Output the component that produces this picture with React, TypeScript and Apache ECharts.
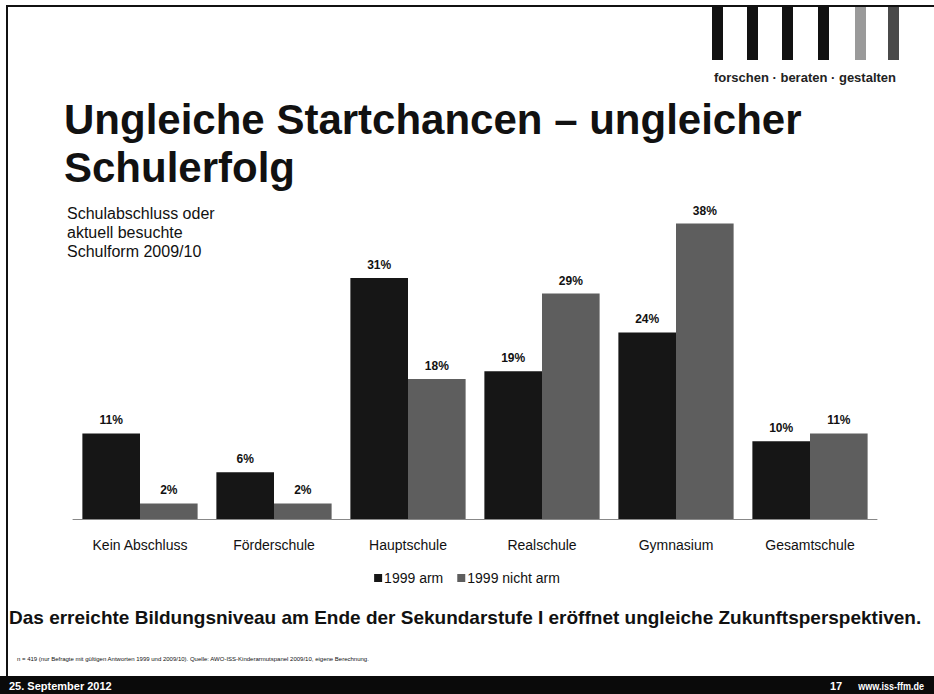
import React, { useEffect, useRef } from "react";
import * as echarts from "echarts";

const categories = ["Kein Abschluss", "Förderschule", "Hauptschule", "Realschule", "Gymnasium", "Gesamtschule"];
const seriesNames = ["1999 arm", "1999 nicht arm"];
const armValues = [11, 6, 31, 19, 24, 10];
const nichtArmValues = [2, 2, 18, 29, 38, 11];

const titleLines = "Ungleiche Startchancen – ungleicher\nSchulerfolg";
const subtitle = "Schulabschluss oder\naktuell besuchte\nSchulform 2009/10";
const statement = "Das erreichte Bildungsniveau am Ende der Sekundarstufe I eröffnet ungleiche Zukunftsperspektiven.";
const footnote = "n = 419 (nur Befragte mit gültigen Antworten 1999 und 2009/10). Quelle: AWO-ISS-Kinderarmutspanel 2009/10, eigene Berechnung.";
const footerDate = "25. September 2012";
const footerPage = "17";
const footerUrl = "www.iss-ffm.de";
const logoText = "forschen · beraten · gestalten";

const FONT = "'Liberation Sans', Arial, sans-serif";

export default function App() {
  const ref = useRef<HTMLDivElement>(null);
  useEffect(() => {
    const chart = echarts.init(ref.current!, null, { renderer: "svg" });
    const logoColors = ["#111", "#111", "#111", "#111", "#9a9a9a", "#4a4a4a"];
    const logoX = [712, 747, 782, 818, 855, 888];
    const label = {
      show: true,
      position: "top" as const,
      distance: 7,
      formatter: "{c}%",
      fontFamily: FONT,
      fontSize: 12,
      fontWeight: "bold" as const,
      color: "#111",
    };
    chart.setOption({
      animation: false,
      backgroundColor: "#fff",
      grid: { left: 73, right: 57, top: 208, bottom: 175 },
      xAxis: {
        type: "category",
        data: categories,
        axisLine: { lineStyle: { color: "#888", width: 1 } },
        axisTick: { show: false },
        axisLabel: { fontFamily: FONT, fontSize: 14, color: "#111", margin: 19 },
      },
      yAxis: { type: "value", min: 0, max: 40, show: false, splitLine: { show: false } },
      legend: {
        data: seriesNames,
        top: 566,
        left: "center",
        icon: "rect",
        itemWidth: 8,
        itemHeight: 8,
        itemGap: 14,
        textStyle: { fontFamily: FONT, fontSize: 14, color: "#111", padding: [0, 0, 0, -3] },
      },
      series: [
        {
          name: seriesNames[0],
          type: "bar",
          data: armValues,
          barGap: "0%",
          barCategoryGap: "14%",
          itemStyle: { color: "#161616" },
          label,
        },
        {
          name: seriesNames[1],
          type: "bar",
          data: nichtArmValues,
          itemStyle: { color: "#5e5e5e" },
          label,
        },
      ],
      graphic: [
        { type: "rect", shape: { x: 6, y: 5, width: 928, height: 2 }, style: { fill: "#111" } },
        { type: "rect", shape: { x: 6, y: 5, width: 2, height: 672 }, style: { fill: "#111" } },
        ...logoX.map((x, i) => ({
          type: "rect",
          shape: { x, y: 7, width: 11, height: 53 },
          style: { fill: logoColors[i] },
        })),
        {
          type: "text",
          x: 805,
          y: 77,
          style: { text: logoText, font: `bold 13px ${FONT}`, fill: "#222", align: "center", verticalAlign: "middle" },
        },
        {
          type: "text",
          x: 64,
          y: 95,
          style: { text: titleLines, font: `bold 42px ${FONT}`, fill: "#111", lineHeight: 48 },
        },
        {
          type: "text",
          x: 67,
          y: 204,
          style: { text: subtitle, font: `16px ${FONT}`, fill: "#111", lineHeight: 19 },
        },
        {
          type: "text",
          x: 9,
          y: 617,
          style: { text: statement, font: `bold 19px ${FONT}`, fill: "#111", verticalAlign: "middle" },
        },
        {
          type: "text",
          x: 17,
          y: 659,
          style: { text: footnote, font: `6px ${FONT}`, fill: "#111", verticalAlign: "middle" },
        },
        { type: "rect", shape: { x: 0, y: 676, width: 934, height: 18 }, style: { fill: "#0a0a0a" } },
        {
          type: "text",
          x: 9,
          y: 686,
          style: { text: footerDate, font: `bold 11px ${FONT}`, fill: "#fff", verticalAlign: "middle" },
        },
        {
          type: "text",
          x: 830,
          y: 686,
          style: { text: footerPage, font: `bold 11px ${FONT}`, fill: "#fff", verticalAlign: "middle" },
        },
        {
          type: "text",
          x: 924,
          y: 686,
          scaleX: 0.82,
          style: { text: footerUrl, font: `bold 11px ${FONT}`, fill: "#fff", align: "right", verticalAlign: "middle" },
        },
      ],
    });
    return () => chart.dispose();
  }, []);
  return <div ref={ref} style={{ position: "absolute", left: 0, top: 0, width: 934, height: 694 }} />;
}
